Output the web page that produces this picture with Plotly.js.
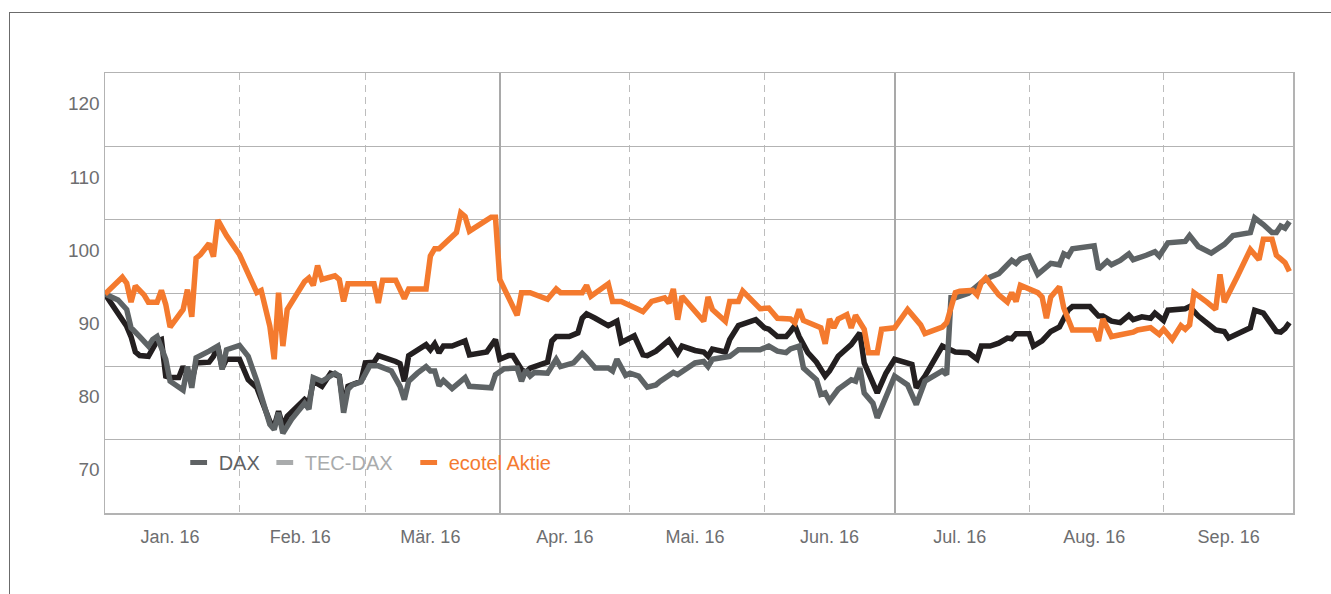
<!DOCTYPE html>
<html><head><meta charset="utf-8">
<script src="https://cdn.plot.ly/plotly-3.0.1.min.js"></script>
<style>
html,body{margin:0;padding:0;background:#fff;}
#chart{position:absolute;left:0;top:0;width:1331px;height:594px;}
#frame{position:absolute;left:9px;top:12px;width:1330px;height:590px;border-left:1.5px solid #6b6b6b;border-top:1.5px solid #6b6b6b;pointer-events:none;}
</style></head><body>
<div id="chart"></div><div id="frame"></div>
<script>
const YEAR = '2016-';

const daxDates = ['01-01','01-03','01-06','01-07','01-08','01-09','01-11','01-13','01-14','01-15','01-16','01-18','01-19','01-21','01-22','01-25','01-26','01-27','01-28','01-29',
 '02-01','02-03','02-05','02-08','02-09','02-10','02-11','02-12','02-16','02-17','02-18','02-20','02-22','02-24','02-25','02-26','02-29',
 '03-01','03-03','03-04','03-07','03-08','03-09','03-10','03-11','03-13','03-15','03-16','03-17','03-18','03-19','03-21','03-24','03-25','03-29','03-31',
 '04-01','04-03','04-04','04-06','04-07','04-08','04-09','04-12','04-13','04-14','04-17','04-19','04-20','04-21','04-23','04-26','04-28','04-29',
 '05-02','05-04','05-05','05-07','05-10','05-12','05-13','05-16','05-18','05-19','05-20','05-21','05-23','05-24','05-26','05-28','05-30',
 '06-01','06-02','06-04','06-06','06-07','06-08','06-09','06-11','06-13','06-15','06-16','06-18','06-21','06-23','06-24','06-26','06-27','06-29',
 '07-01','07-05','07-06','07-08','07-11','07-12','07-15','07-18','07-20','07-21','07-23','07-25','07-27','07-28','07-29',
 '08-01','08-02','08-04','08-06','08-08','08-10','08-11','08-15','08-17','08-18','08-20','08-22','08-24','08-25','08-27','08-29','08-30',
 '09-01','09-02','09-06','09-07','09-09','09-11','09-13','09-15','09-16','09-21','09-22','09-24','09-27','09-28','09-29','09-30'];
const daxValues = [94.0,92.3,89.6,88.2,86.1,85.6,85.5,87.6,87.8,82.8,82.6,82.6,84.1,82.1,84.6,84.7,85.5,86.9,83.9,85.1,
 85.1,82.3,81.2,76.6,75.9,78.0,75.9,77.3,79.6,79.1,82.1,81.4,83.2,82.8,78.7,81.4,82.1,
 84.6,84.7,85.6,85.1,84.8,84.5,82.1,85.6,86.4,87.1,86.4,87.2,86.0,86.9,86.9,87.6,85.7,86.1,87.8,
 85.1,85.6,85.6,83.7,83.3,83.9,84.1,84.7,87.6,88.2,88.2,88.7,90.7,91.3,90.7,89.7,90.3,87.4,
 88.3,85.7,85.6,86.2,87.7,85.9,86.9,86.3,86.1,85.5,86.5,86.3,86.1,87.8,89.7,90.1,90.5,
 89.4,89.2,88.2,88.2,88.9,89.7,88.2,86.0,84.7,82.8,83.5,85.5,87.1,88.7,84.6,81.9,80.5,83.2,
 85.1,84.4,81.2,82.8,85.9,86.9,86.1,86.0,85.1,86.9,86.9,87.3,88.0,87.9,88.6,
 88.6,86.9,87.6,88.9,89.5,91.8,92.3,92.3,91.0,91.0,90.3,90.1,91.1,90.5,90.9,90.7,91.4,
 90.4,91.8,92.0,92.3,91.0,90.0,89.1,88.9,88.0,89.4,91.8,91.4,88.9,88.8,89.3,90.1];

const tecDates = ['01-01','01-04','01-06','01-07','01-09','01-11','01-12','01-13','01-15','01-16','01-19','01-20','01-21','01-22','01-25','01-27','01-28','01-29',
 '02-01','02-03','02-05','02-08','02-09','02-10','02-11','02-13','02-16','02-17','02-18','02-20','02-23','02-24','02-25','02-26','02-27','02-29',
 '03-02','03-04','03-07','03-08','03-09','03-10','03-11','03-13','03-15','03-16','03-17','03-18','03-19','03-21','03-24','03-25','03-30','03-31',
 '04-01','04-02','04-05','04-06','04-07','04-08','04-09','04-12','04-14','04-15','04-18','04-20','04-21','04-23','04-26','04-27','04-28','04-30',
 '05-01','05-03','05-05','05-07','05-08','05-11','05-12','05-14','05-16','05-18','05-19','05-20','05-24','05-26','05-31',
 '06-02','06-04','06-06','06-07','06-09','06-10','06-13','06-14','06-15','06-16','06-18','06-21','06-22','06-23','06-24','06-26','06-27','06-29',
 '07-01','07-04','07-06','07-08','07-11','07-12','07-13','07-14','07-15','07-17','07-18','07-20','07-21','07-23','07-25','07-26','07-28','07-29','07-30',
 '08-01','08-03','08-06','08-08','08-09','08-10','08-11','08-16','08-17','08-19','08-20','08-22','08-24','08-25','08-28','08-30','08-31',
 '09-02','09-06','09-07','09-09','09-12','09-15','09-17','09-21','09-22','09-24','09-26','09-27','09-28','09-29','09-30'];
const tecValues = [94.0,93.2,91.9,89.4,88.2,86.9,87.8,88.2,85.1,82.1,80.9,84.1,81.2,85.3,86.2,86.9,83.7,86.4,
 87.0,85.5,82.1,76.2,75.5,77.8,75.0,76.9,79.1,78.3,82.6,82.1,83.2,82.8,77.8,81.0,81.6,82.0,
 84.2,84.2,83.5,82.6,81.4,79.6,82.1,83.2,84.1,83.5,83.5,81.5,82.2,81.1,82.6,81.4,81.2,83.0,
 83.5,83.8,83.9,82.1,83.6,82.8,83.3,83.2,85.1,84.1,84.6,85.9,85.3,83.9,83.9,83.5,85.1,82.9,
 83.2,82.8,81.3,81.6,82.1,83.3,83.0,83.9,84.6,84.8,84.1,85.1,85.5,86.4,86.4,
 86.9,86.2,86.0,86.5,86.9,83.9,82.3,80.3,80.5,79.4,81.0,82.3,82.1,83.9,80.5,79.1,77.1,80.0,
 82.8,81.6,78.9,82.1,83.3,83.5,83.0,93.5,93.5,93.9,94.1,95.1,95.6,96.3,96.8,97.4,98.6,98.2,98.8,
 99.2,96.7,98.2,98.0,99.5,99.2,100.2,100.6,97.4,98.5,98.0,98.6,99.5,98.7,99.3,99.8,99.2,
 101.0,101.2,102.0,100.5,99.6,100.8,102.0,102.4,104.4,103.5,102.4,102.4,103.3,103.0,103.9];

const ecoDates = ['01-01','01-05','01-06','01-07','01-08','01-10','01-11','01-13','01-14','01-15','01-16','01-19','01-20','01-21','01-22','01-23','01-25','01-26','01-27','01-29',
 '02-01','02-05','02-06','02-08','02-09','02-10','02-11','02-12','02-16','02-17','02-18','02-19','02-20','02-23','02-24','02-25','02-26',
 '03-03','03-04','03-05','03-08','03-10','03-11','03-15','03-16','03-17','03-18','03-21','03-22','03-23','03-24','03-25','03-30','03-31',
 '04-01','04-05','04-06','04-08','04-12','04-14','04-15','04-20','04-21','04-22','04-26','04-27','04-29',
 '05-03','05-04','05-06','05-09','05-10','05-11','05-12','05-13','05-18','05-19','05-20','05-23','05-24','05-26','05-27','05-30','05-31',
 '06-02','06-04','06-07','06-08','06-09','06-10','06-14','06-15','06-16','06-17','06-18','06-20','06-21','06-22','06-24','06-25','06-27','06-28',
 '07-01','07-04','07-07','07-08','07-12','07-13','07-15','07-16','07-19','07-20','07-21','07-22','07-25','07-27','07-28','07-29','07-30','07-31',
 '08-03','08-04','08-05','08-06','08-08','08-09','08-11','08-16','08-17','08-18','08-19','08-20','08-25','08-26','08-29','08-31',
 '09-01','09-03','09-05','09-06','09-07','09-08','09-11','09-13','09-14','09-15','09-18','09-21','09-23','09-24','09-26','09-27','09-28','09-29','09-30'];
const ecoValues = [94.0,96.3,95.5,92.9,95.1,93.9,92.9,92.9,94.5,92.6,89.5,91.9,94.6,90.9,98.9,99.4,100.9,99.1,104.1,102.0,
 99.4,94.2,94.5,89.6,85.1,94.2,86.9,91.9,95.7,96.2,95.2,97.9,96.0,96.5,96.0,93.0,95.4,
 95.4,92.8,95.9,95.9,93.4,94.7,94.7,99.2,100.2,100.2,101.9,102.4,105.1,104.6,102.6,104.5,104.5,
 96.0,91.1,94.2,94.2,93.3,94.7,94.2,94.2,95.2,93.7,95.4,93.0,93.0,
 91.9,91.6,93.0,93.5,92.8,94.7,90.5,93.7,90.3,93.6,91.9,90.3,93.0,93.0,94.4,92.4,92.0,
 92.1,90.7,90.6,90.1,91.9,90.4,89.4,87.2,90.6,89.4,90.6,91.2,89.4,91.1,89.2,86.0,86.0,89.2,
 89.4,91.9,89.8,88.6,89.5,90.1,94.2,94.4,94.5,93.9,95.6,96.2,93.9,92.9,94.2,93.0,95.2,95.0,
 94.2,93.6,90.7,93.6,95.0,92.1,89.1,89.1,87.6,90.6,89.2,88.2,88.8,89.1,89.4,88.5,
 89.2,87.8,89.7,89.2,89.8,94.2,92.9,91.9,96.7,92.9,96.4,100.1,98.7,101.5,101.5,99.3,98.8,98.3,97.1];

const seriesNames = ['DAX','TEC-DAX\u00a0\u00a0','ecotel Aktie'];
const lineColors = ['#231f20','#5e6365','#f47a2e'];
const legendColors = ['#5f6264','#a9abac','#f47a30'];

const monthLabels = ['Jan. 16','Feb. 16','Mär. 16','Apr. 16','Mai. 16','Jun. 16','Jul. 16','Aug. 16','Sep. 16'];
const monthLabelDates = ['01-16','02-15','03-16','04-16','05-16','06-16','07-16','08-16','09-16'];
const monthStartDates = ['02-01','03-01','05-01','06-01','08-01','09-01'];
const quarterStartDates = ['04-01','07-01'];
const yTickValues = [70,80,90,100,110,120];
const yGridValues = [74.15,84.15,94.15,104.15,114.15];
const xRange = ['2016-01-01','2016-09-30 20:00'];
const yRange = [64.1,124.2];

const full = a => a.map(d => YEAR + d);
const FONT = '"Liberation Sans", Arial, Helvetica, sans-serif';

const dataSets = [[daxDates,daxValues],[tecDates,tecValues],[ecoDates,ecoValues]];
const traces = dataSets.map((s,i) => ({
  type:'scatter', mode:'lines', x: full(s[0]), y: s[1], name: seriesNames[i],
  line:{color: lineColors[i], width:5.5}, showlegend:false, hoverinfo:'skip', xaxis:'x', yaxis:'y'
}));
seriesNames.forEach((n,i) => traces.push({
  type:'scatter', mode:'markers', x:[null], y:[null], xaxis:'x2', yaxis:'y',
  name: '<span style="color:' + legendColors[i] + '">' + n + '</span>',
  marker:{symbol:'line-ew', size:12, color:legendColors[i], line:{width:5, color:legendColors[i]}},
  showlegend:true, hoverinfo:'skip'
}));

const layout = {
  width:1331, height:594,
  margin:{l:105, r:38, t:73, b:81, pad:0},
  paper_bgcolor:'rgba(0,0,0,0)', plot_bgcolor:'rgba(0,0,0,0)',
  font:{family:FONT, size:18, color:'#6d6e70'},
  showlegend:true,
  legend:{orientation:'h', x:0.062, xanchor:'left', y:0.115, yanchor:'middle',
          bgcolor:'rgba(0,0,0,0)', font:{size:20, family:FONT}, itemwidth:30, traceorder:'normal'},
  xaxis:{type:'date', range:xRange, tickmode:'array', tickvals: full(quarterStartDates),
         showticklabels:false, ticks:'', showgrid:true, gridcolor:'#a9a9a9', gridwidth:2,
         minor:{tickmode:'array', tickvals: full(monthStartDates), showgrid:true, gridcolor:'#bdbdbd', gridwidth:1, griddash:'7px,5px', ticks:''},
         showline:true, linecolor:'#b3b3b3', linewidth:1.5, mirror:true, zeroline:false, fixedrange:true},
  xaxis2:{type:'date', overlaying:'x', anchor:'y', side:'bottom', range:xRange, tickmode:'array',
          tickvals: full(monthLabelDates), ticktext: monthLabels, showgrid:false, ticks:'',
          ticklabelstandoff:11, tickfont:{size:18, color:'#6d6e70'}, showline:false, zeroline:false, fixedrange:true},
  yaxis:{range:yRange, tickmode:'array', tickvals:yTickValues, ticks:'', showgrid:false,
         minor:{tickmode:'array', tickvals:yGridValues, showgrid:true, gridcolor:'#b3b3b3', gridwidth:1, ticks:''},
         showline:true, linecolor:'#b3b3b3', linewidth:1.5, mirror:true, zeroline:false,
         ticklabelstandoff:0, tickfont:{size:19, color:'#6d6e70'}, fixedrange:true}
};

Plotly.newPlot('chart', traces, layout, {staticPlot:true, displayModeBar:false});
</script></body></html>
